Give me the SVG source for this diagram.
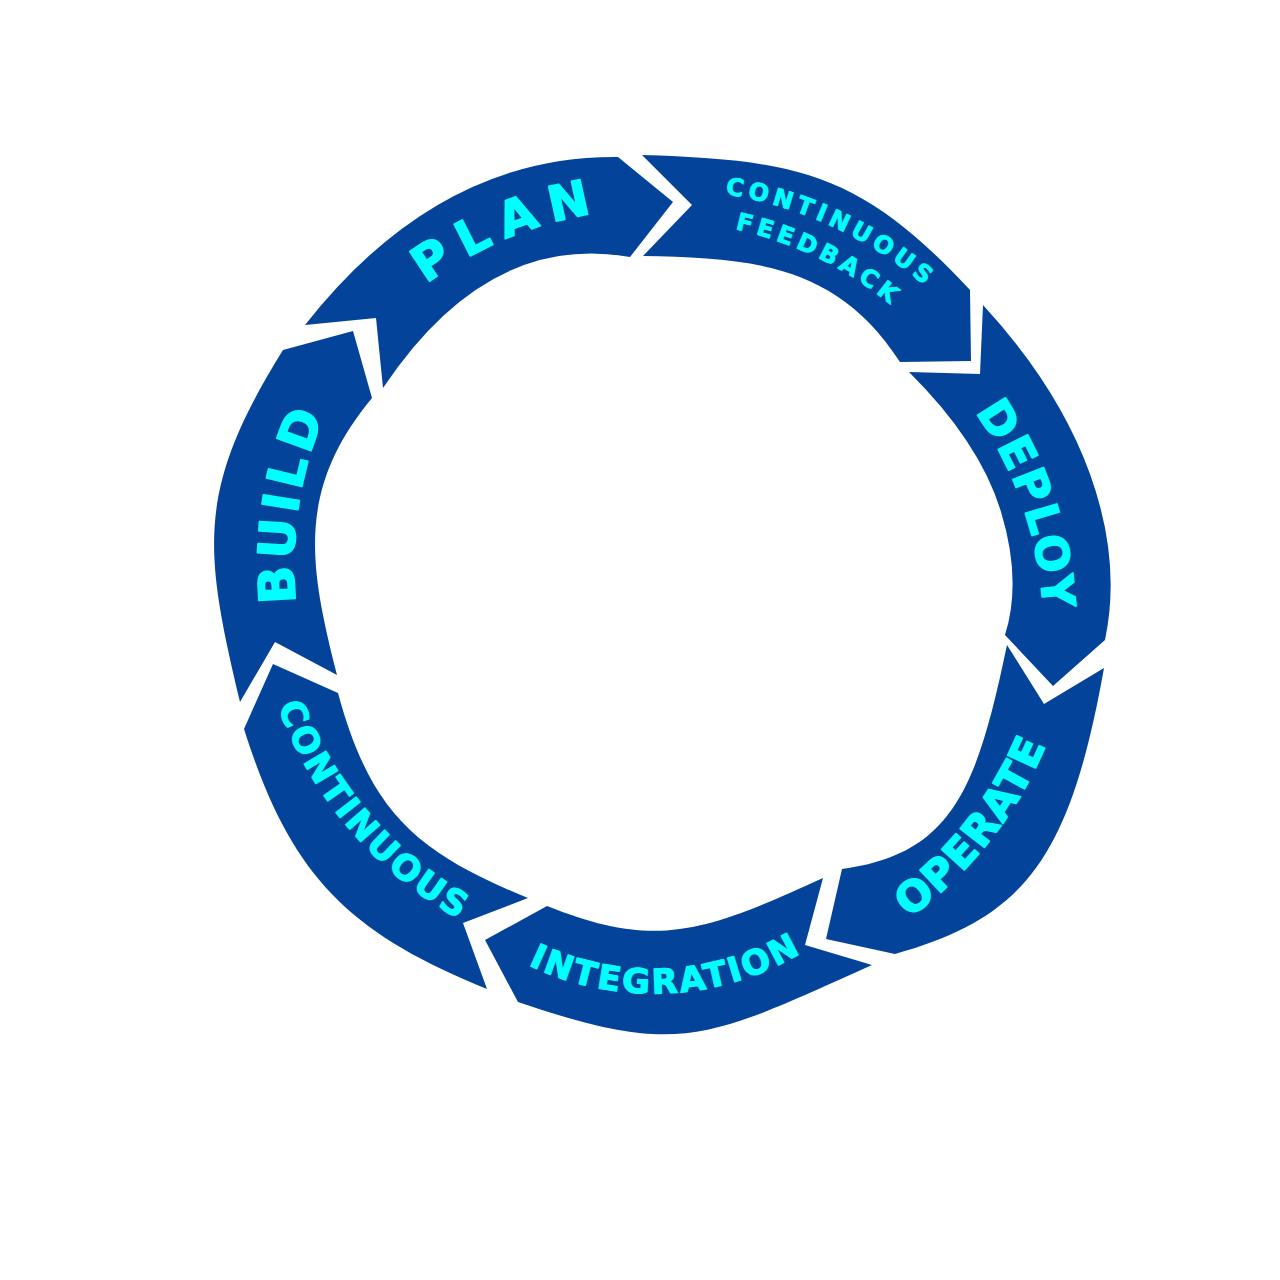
<svg xmlns="http://www.w3.org/2000/svg" width="1280" height="1280" viewBox="0 0 1280 1280">
<style>
.seg{fill:#034399}
.lbl{fill:#00FFFF;stroke:#00FFFF;stroke-linejoin:round;font-family:"DejaVu Sans",Lato,sans-serif;font-weight:700}
.big{stroke-width:1.6}
.mid{stroke-width:1.2}
.sm{stroke-width:0.8}
</style>
<defs>
<path id="tp-plan" d="M426,284 A392,392 0 0 1 592,214"/>
<path id="tp-cf1" d="M725,194 A405,405 0 0 1 924,285"/>
<path id="tp-cf2" d="M735,229 A372,372 0 0 1 890,304"/>
<path id="tp-deploy" d="M975,412 A378,378 0 0 1 1043,609"/>
<path id="tp-operate" d="M909,918 A408,408 0 0 0 1046,745"/>
<path id="tp-integ" d="M528,965 A290,290 0 0 0 801,953"/>
<path id="tp-cont" d="M278,706 A400,400 0 0 0 459,919"/>
<path id="tp-build" d="M296,603 A380,380 0 0 1 324,416"/>
</defs>
<rect width="1280" height="1280" fill="#ffffff"/>
<g id="plan">
<path class="seg" d="M305,325 Q438.5,155 618,157 L673,202 L630,257 Q487.5,231.5 383,388 L376,318 Z"/>
<text class="lbl big" font-size="49"><textPath href="#tp-plan" textLength="182" lengthAdjust="spacing">PLAN</textPath></text>
</g>
<g id="continuous-feedback">
<path class="seg" d="M642,155 C798.7,159.7 861.4,173.4 970,290 L971,361 L900,362 C836.9,263.9 751.4,258 643,256 L692,205 Z"/>
<text class="lbl sm" font-size="24"><textPath href="#tp-cf1" textLength="222" lengthAdjust="spacing">CONTINUOUS</textPath></text>
<text class="lbl sm" font-size="24"><textPath href="#tp-cf2" textLength="174" lengthAdjust="spacing">FEEDBACK</textPath></text>
</g>
<g id="deploy">
<path class="seg" d="M983,305 Q1058.5,387 1090,474 Q1121.5,561.5 1105,640 L1053,686 L1005,635 Q1022,581 1001,511.75 Q980,442.5 909,372 L980,374 Z"/>
<text class="lbl big" font-size="45"><textPath href="#tp-deploy" textLength="211" lengthAdjust="spacing">DEPLOY</textPath></text>
</g>
<g id="operate">
<path class="seg" d="M1104,668 C1070,859 1024,918 895,954 L826,939 L842,869 C953,854 977,788 1007,645 L1044,704 Z"/>
<text class="lbl big" font-size="42"><textPath href="#tp-operate" textLength="223" lengthAdjust="spacing">OPERATE</textPath></text>
</g>
<g id="integration">
<path class="seg" d="M872,965 C705,1040 680,1057 518,1002 L485,940 L547,906 C655,949 701,934 823,878 L805,945 Z"/>
<text class="lbl mid" font-size="34"><textPath href="#tp-integ" textLength="284" lengthAdjust="spacing">INTEGRATION</textPath></text>
</g>
<g id="continuous">
<path class="seg" d="M487,989 C346.2,931.7 290.1,874.3 244,729 L273,664 L338,693 C370.5,812.3 415.5,851.9 528,898 L463,923 Z"/>
<text class="lbl mid" font-size="35"><textPath href="#tp-cont" textLength="285" lengthAdjust="spacing">CONTINUOUS</textPath></text>
</g>
<g id="build">
<path class="seg" d="M240,702 C204.1,550 194.8,491.5 283,350 L353,331 L372,398 C295.8,489.9 309.1,565.5 337,675 L275,642 Z"/>
<text class="lbl big" font-size="50"><textPath href="#tp-build" textLength="191" lengthAdjust="spacing">BUILD</textPath></text>
</g>
</svg>
